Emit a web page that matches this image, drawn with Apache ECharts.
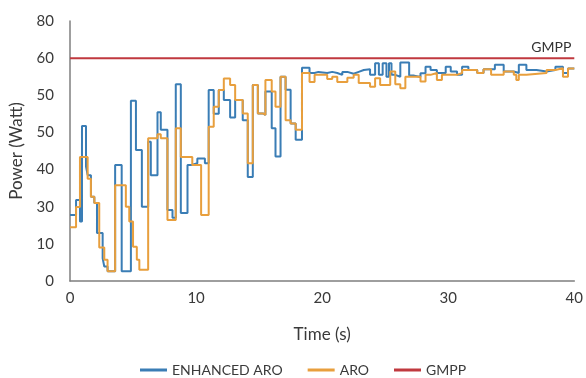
<!DOCTYPE html>
<html>
<head>
<meta charset="utf-8">
<script src="https://cdn.jsdelivr.net/npm/echarts@6/dist/echarts.min.js"></script>
<style>
html,body{margin:0;padding:0;background:#fff;}
#chart{width:586px;height:378px;}
</style>
</head>
<body>
<div id="chart"></div>
<script>
// ---- data ----
const enhancedTime = [0,0.48,0.79,0.95,1.27,1.40,1.66,1.93,2.14,2.59,2.72,2.98,3.58,4.1,4.83,5.23,5.7,6.2,6.41,6.94,7.2,7.73,8.13,8.39,8.79,9.32,9.58,10.1,10.7,11.0,11.4,11.8,12.2,12.7,13.1,13.7,14.1,14.5,14.9,15.3,15.5,16.0,16.3,16.7,17.1,17.5,17.9,
  18.4,19.0,19.4,19.7,20.4,20.8,21.2,21.6,22.0,22.5,22.9,23.3,23.8,24.2,24.5,24.8,25.1,25.3,25.5,25.8,26.2,26.9,27.3,27.8,28.2,28.6,29.1,29.8,30.2,30.7,31.1,31.6,32.3,32.8,33.7,34.4,35.2,35.6,36.2,37.0,37.8,38.5,39.1,39.5,40.0];
const enhancedPower = [17.8,21.8,16.0,41.7,30.8,28.5,22.7,21.0,12.9,6.1,3.9,2.6,31.2,2.6,48.5,35.3,20.0,37.5,28.5,45.4,40.7,19.1,17.0,53.0,18.3,31.2,31.7,33.0,31.7,51.4,45.0,51.4,48.7,44.0,48.7,43.3,28.0,52.8,45.1,44.7,51.0,41.1,33.5,55.0,51.5,42.4,38.0,
  57.4,56.0,56.3,56.0,56.3,56.0,55.5,56.3,55.8,56.3,56.8,57.0,55.5,58.6,55.5,58.6,55.0,58.6,55.5,55.0,58.8,55.3,54.9,55.9,57.7,56.8,56.0,57.7,56.4,55.5,57.7,56.8,56.0,57.0,58.2,56.4,56.0,58.2,56.8,56.4,56.8,57.7,56.0,57.2,57.2];
const aroTime = [0,0.48,0.79,1.40,1.66,1.93,2.32,2.72,2.98,3.58,4.43,4.70,5.0,5.3,5.5,6.2,6.94,7.2,7.73,8.39,8.79,9.7,10.4,11.0,11.4,11.8,12.2,12.7,13.1,13.7,14.1,14.5,14.9,15.3,15.5,16.0,16.3,16.7,17.1,17.5,17.9,
  18.4,19.0,19.4,20.4,20.8,21.2,22.0,22.5,22.9,23.8,24.2,24.6,25.4,25.8,26.2,26.6,27.8,28.2,28.6,29.1,29.5,30.7,31.1,32.3,32.8,33.4,34.4,35.2,35.4,35.6,36.2,37.8,38.5,39.1,39.5,40.0];
const aroPower = [14.5,19.9,33.4,27.5,22.7,21.0,9.0,5.7,2.6,25.8,20.0,16.0,9.2,5.7,3.0,38.4,39.5,38.4,16.4,41.1,33.4,31.2,17.8,41.5,46.9,51.4,54.5,52.8,48.7,45.1,31.7,52.8,45.1,44.7,54.1,51.0,46.9,55.0,43.3,42.4,40.7,
  56.0,53.6,55.5,54.4,55.0,53.6,54.7,55.5,53.3,52.3,54.6,52.8,56.4,53.0,51.9,55.0,53.7,55.5,56.0,54.1,55.5,56.0,56.8,56.0,57.0,55.5,56.4,55.5,54.1,55.5,56.0,56.8,57.3,55.0,57.2,57.2];
const gmppTime = [0, 40];
const gmppPower = [60, 60];
const yTickLabels = ["0","10","30","40","50","50","60","80"];
const seriesNames = ["ENHANCED ARO","ARO","GMPP"];
const xAxisTitle = "Time (s)";
const yAxisTitle = "Power (Watt)";

const pairs = (t, v) => t.map((x, i) => [x, v[i]]);
const FONT = 'Lato';
const TXT = '#3a3a3a';

const chart = echarts.init(document.getElementById('chart'), null, {renderer: 'canvas'});
chart.setOption({
  animation: false,
  backgroundColor: '#fff',
  grid: {left: 69, right: 11, top: 21, bottom: 97, containLabel: false},
  xAxis: {
    type: 'value', min: 0, max: 40, interval: 10,
    name: xAxisTitle, nameLocation: 'middle', nameGap: 45,
    nameTextStyle: {fontFamily: FONT, fontSize: 17, color: TXT},
    axisLine: {show: true, lineStyle: {color: '#7f7f7f', width: 1.5}},
    axisTick: {show: false},
    splitLine: {show: false},
    axisLabel: {fontFamily: FONT, fontSize: 15, color: TXT, margin: 10}
  },
  yAxis: {
    type: 'value', min: 0, max: 70, interval: 10,
    name: yAxisTitle, nameLocation: 'middle', nameGap: 45, nameRotate: 90,
    nameTextStyle: {fontFamily: FONT, fontSize: 17, color: TXT},
    axisLine: {show: true, lineStyle: {color: '#7f7f7f', width: 1.5}},
    axisTick: {show: false},
    splitLine: {show: false},
    axisLabel: {fontFamily: FONT, fontSize: 15, color: TXT, margin: 16,
      formatter: v => yTickLabels[Math.round(v / 10)]}
  },
  legend: {
    top: 358, left: 135,
    itemWidth: 27, itemHeight: 3, itemGap: 25,
    icon: 'rect',
    textStyle: {fontFamily: FONT, fontSize: 14, color: TXT},
    data: seriesNames
  },
  series: [
    {name: seriesNames[0], type: 'line', step: 'end', showSymbol: false, symbol: 'none',
     data: pairs(enhancedTime, enhancedPower),
     itemStyle: {color: '#3a7db5'}, lineStyle: {color: '#3a7db5', width: 2}},
    {name: seriesNames[1], type: 'line', step: 'end', showSymbol: false, symbol: 'none',
     data: pairs(aroTime, aroPower),
     itemStyle: {color: '#e89f3d'}, lineStyle: {color: '#e89f3d', width: 2}},
    {name: seriesNames[2], type: 'line', showSymbol: false, symbol: 'none',
     data: pairs(gmppTime, gmppPower),
     endLabel: {show: true, formatter: seriesNames[2], offset: [-51, -11],
                fontFamily: FONT, fontSize: 14, color: '#333'},
     itemStyle: {color: '#c0393f'}, lineStyle: {color: '#c0393f', width: 2}}
  ]
});
</script>
</body>
</html>
